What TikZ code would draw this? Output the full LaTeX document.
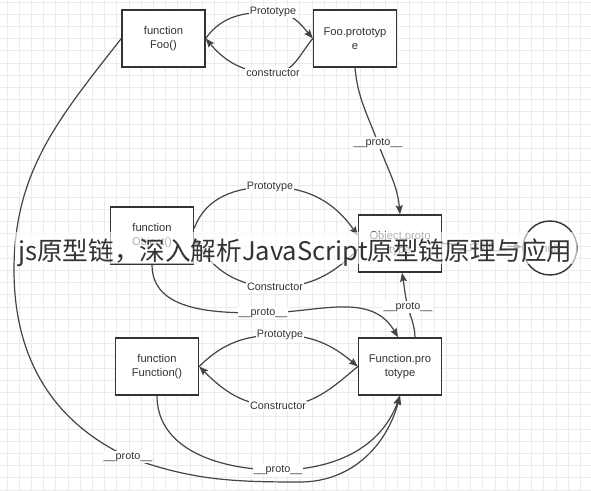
\documentclass[tikz,border=0pt]{standalone}
\usepackage{fontspec}
\setmainfont{Liberation Sans}
\newfontfamily\cjk{Noto Sans CJK SC}
\usetikzlibrary{arrows.meta}
\definecolor{gridc}{HTML}{EBEBEB}
\definecolor{linec}{HTML}{444444}
\definecolor{boxc}{HTML}{333333}
\definecolor{txtc}{HTML}{333333}
\tikzset{
 gridline/.style={draw=gridc, line width=0.8pt},
 obox/.style={draw=boxc, line width=1.4pt, fill=white, minimum width=83pt, minimum height=57pt, align=center, text=txtc, font=\fontsize{11.2}{13.5}\selectfont, inner sep=0pt},
 ocirc/.style={circle, draw=boxc, line width=1.4pt, fill=white, minimum size=54pt, text=txtc, font=\fontsize{11.2}{13.5}\selectfont, inner sep=0pt},
 link/.style={draw=linec, line width=1.2pt},
 arr/.style={link, -{Stealth[length=9pt,width=7pt,inset=1.5pt]}},
 lbl/.style={fill=white, text=txtc, inner sep=1pt, font=\fontsize{10.8}{12}\selectfont},
 band/.style={fill=white, fill opacity=0.62, draw=none},
 wmark/.style={text=black!80, inner sep=0pt, font=\cjk\fontsize{25.6}{26}\selectfont},
}
\begin{document}
\begin{tikzpicture}[x=1pt,y=1pt]
\useasboundingbox (0,0) rectangle (591,490);
\fill[white] (0,0) rectangle (591,490);
% grid
\foreach \i in {0,...,48} \draw[gridline] ({7+12.2*\i},0) -- ({7+12.2*\i},490);
\foreach \j in {0,...,40} \draw[gridline] (0,{488-12.2*\j}) -- (591,{488-12.2*\j});
% nodes
\node[obox] (foo)  at (163.5,451.5) {function\\Foo()};
\node[obox] (foop) at (355,451.5)   {Foo.prototyp\\e};
\node[obox] (obj)  at (152,254.5)   {function\\Object()};
\node[obox] (objp) at (400,246.5)   {Object.proto\\type};
\node[ocirc] (nul) at (550,242)     {null};
\node[obox] (fun)  at (157,123.5)   {function\\Function()};
\node[obox] (funp) at (400,123.5)   {Function.pro\\totype};
% waypoints
\coordinate (c1) at (273,478);
\coordinate (c2) at (273,417);
\coordinate (c3) at (378,347);
\coordinate (c4) at (270,303);
\coordinate (c5) at (275,203);
\coordinate (c6) at (263,177);
\coordinate (c7) at (408,183);
\coordinate (c8) at (280,155);
\coordinate (c9) at (278,84);
\coordinate (c10) at (278,20);
\coordinate (c11) at (14,220);
\coordinate (c12) at (128,33);
\coordinate (c13) at (300,8);
\coordinate (c14) at (482,243);
% connectors
\draw[arr] (foo.east) to[out=55,in=180] (c1) to[out=0,in=130] (foop.west);
\draw[arr] (foop.west) to[out=-130,in=0] (c2) to[out=180,in=-50] (foo.east);
\draw[arr] (foop.south) to[out=-85,in=110] (c3) to[out=-70,in=95] (objp.north);
\draw[arr] ([yshift=7pt]obj.east) to[out=70,in=180] (c4) to[out=0,in=125] ([yshift=8pt]objp.west);
\draw[arr] ([yshift=-6pt]objp.west) to[out=-135,in=0] (c5) to[out=180,in=-60] ([yshift=-2pt]obj.east);
\draw[arr] (obj.south) to[out=-90,in=180] (c6) to[out=0,in=120] ([xshift=-2pt]funp.north);
\draw[arr] ([xshift=15pt]funp.north) to[out=92,in=-75] (c7) to[out=105,in=-80] ([xshift=2pt]objp.south);
\draw[arr] (fun.east) to[out=45,in=180] (c8) to[out=0,in=140] (funp.west);
\draw[arr] (funp.west) to[out=-140,in=0] (c9) to[out=180,in=-45] (fun.east);
\draw[arr] (fun.south) to[out=-90,in=180] (c10) to[out=0,in=-110] (funp.south);
\draw[arr] (foo.west) to[out=-128,in=90] (c11) to[out=-90,in=155] (c12) to[out=-20,in=180] (c13) to[out=0,in=-105] (funp.south);
\draw[arr] (objp.east) -- (nul);
% labels
\node[lbl] (l1) at (c1) {Prototype};
\node[lbl] (l2) at (c2) {constructor};
\node[lbl] (l3) at (c3) {\_\_proto\_\_};
\node[lbl] (l4) at (c4) {Prototype};
\node[lbl] (l5) at (c5) {Constructor};
\node[lbl] (l6) at (c6) {\_\_proto\_\_};
\node[lbl] (l7) at (c7) {\_\_proto\_\_};
\node[lbl] (l8) at (c8) {Prototype};
\node[lbl] (l9) at (c9) {Constructor};
\node[lbl] (l10) at (c10) {\_\_proto\_\_};
\node[lbl] (l12) at (c12) {\_\_proto\_\_};
\node[lbl] (l14) at (c14) {\_\_proto\_\_};
% watermark
\fill[band] (15,226) rectangle (577,258);
\node[wmark, anchor=base west] (wm) at (18,229) {js原型链，深入解析JavaScript原型链原理与应用};
\end{tikzpicture}
\end{document}
